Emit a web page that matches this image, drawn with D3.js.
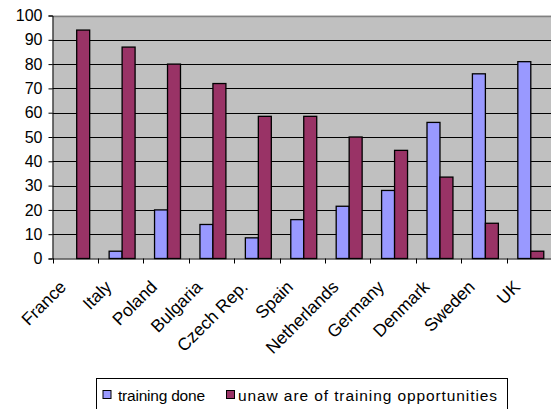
<!DOCTYPE html>
<html><head><meta charset="utf-8">
<script src="https://cdn.jsdelivr.net/npm/d3@7"></script>
<style>
html,body{margin:0;padding:0;background:#fff;overflow:hidden;}
svg{display:block;}
text{font-family:"Liberation Sans",Arial,sans-serif;}
</style></head>
<body><svg id="c" width="551" height="409"></svg>
<script>
const categories = ["France","Italy","Poland","Bulgaria","Czech Rep.","Spain","Netherlands","Germany","Denmark","Sweden","UK"];
const trainingDone = [0,3,20,14,8.5,16,21.5,28,56,76,81];
const unaware = [94,87,80,72,58.5,58.5,50,44.5,33.5,14.5,3];
const seriesNames = ["training done","unaw are of training opportunities"];
const seriesColors = ["#9999FF","#993366"];
const yTicks = [0,10,20,30,40,50,60,70,80,90,100];

const FONT = "Liberation Sans, Arial, sans-serif";
const svg = d3.select("#c");
const L = 52.5, R = 552, T = 15.5, B = 258.5;
const x = d3.scaleBand().domain(categories).range([L, R]).padding(0);
const y = d3.scaleLinear().domain([0,100]).range([B, T]);
const bw = x.bandwidth();
const barW = bw/3.5;
const off = (bw - 2*barW)/2 + 1.5;

svg.append("rect").attr("x",L).attr("y",T).attr("width",R-L).attr("height",B-T).attr("fill","#C0C0C0");
svg.append("g").selectAll("line").data(yTicks.filter(d=>d>0 && d<100)).join("line")
  .attr("x1",L).attr("x2",R).attr("y1",d=>Math.round(y(d))+0.5).attr("y2",d=>Math.round(y(d))+0.5)
  .attr("stroke","#000").attr("stroke-width",1);
svg.append("line").attr("x1",L).attr("x2",R).attr("y1",Math.round(y(100))+0.5).attr("y2",Math.round(y(100))+0.5)
  .attr("stroke","#808080").attr("stroke-width",1.5);

const series = [trainingDone, unaware];
series.forEach((vals, si) => {
  svg.append("g").selectAll("rect").data(categories.map((c,i)=>({c, v: vals[i]})).filter(d=>d.v>0)).join("rect")
    .attr("x", d => x(d.c) + off + si*barW)
    .attr("y", d => y(d.v))
    .attr("width", barW)
    .attr("height", d => y(0) - y(d.v))
    .attr("fill", seriesColors[si])
    .attr("stroke", "#000").attr("stroke-width", 1.3);
});

const yAxis = d3.axisLeft(y).tickValues(yTicks).tickSize(4).tickPadding(6);
const gy = svg.append("g").attr("transform",`translate(${L},0)`).call(yAxis)
  .attr("font-family", FONT).attr("font-size", 16);
gy.select(".domain").attr("stroke","#000");
gy.selectAll(".tick line").attr("stroke","#000");
gy.selectAll(".tick text").attr("fill","#000").attr("font-family",FONT).attr("font-size","16px");

const xAxis = d3.axisBottom(x).tickSize(0).tickFormat("");
const gx = svg.append("g").attr("transform",`translate(0,${B})`).call(xAxis);
gx.select(".domain").attr("stroke","#000");
gx.selectAll(".tick").remove();
svg.append("g").selectAll("line").data(categories.map(c=>x(c)).concat([R])).join("line")
  .attr("x1",d=>Math.round(d)+0.5).attr("x2",d=>Math.round(d)+0.5)
  .attr("y1",B).attr("y2",B+5).attr("stroke","#000");
svg.append("g").selectAll("text").data(categories).join("text")
  .attr("transform", d => `translate(${x(d)+bw/2-8},288) rotate(-45)`)
  .attr("text-anchor","end")
  .attr("font-family",FONT).attr("font-size","17.5px").attr("fill","#000")
  .text(d=>d);

const lg = svg.append("g");
lg.append("rect").attr("x",96.5).attr("y",378.5).attr("width",411).attr("height",40)
  .attr("fill","#fff").attr("stroke","#000").attr("stroke-width",1);
const legX = [102.5, 226];
const legTX = [118, 238];
const legLen = [87, 259];
seriesNames.forEach((n,i)=>{
  lg.append("rect").attr("x",legX[i]+0.5).attr("y",390.5).attr("width",8).attr("height",8)
    .attr("fill",seriesColors[i]).attr("stroke","#000").attr("stroke-width",1);
  lg.append("text").attr("x",legTX[i]).attr("y",401).attr("font-family",FONT).attr("font-size","15.5px")
    .attr("textLength",legLen[i]).attr("lengthAdjust","spacing").attr("fill","#000").text(n);
});
</script></body></html>
